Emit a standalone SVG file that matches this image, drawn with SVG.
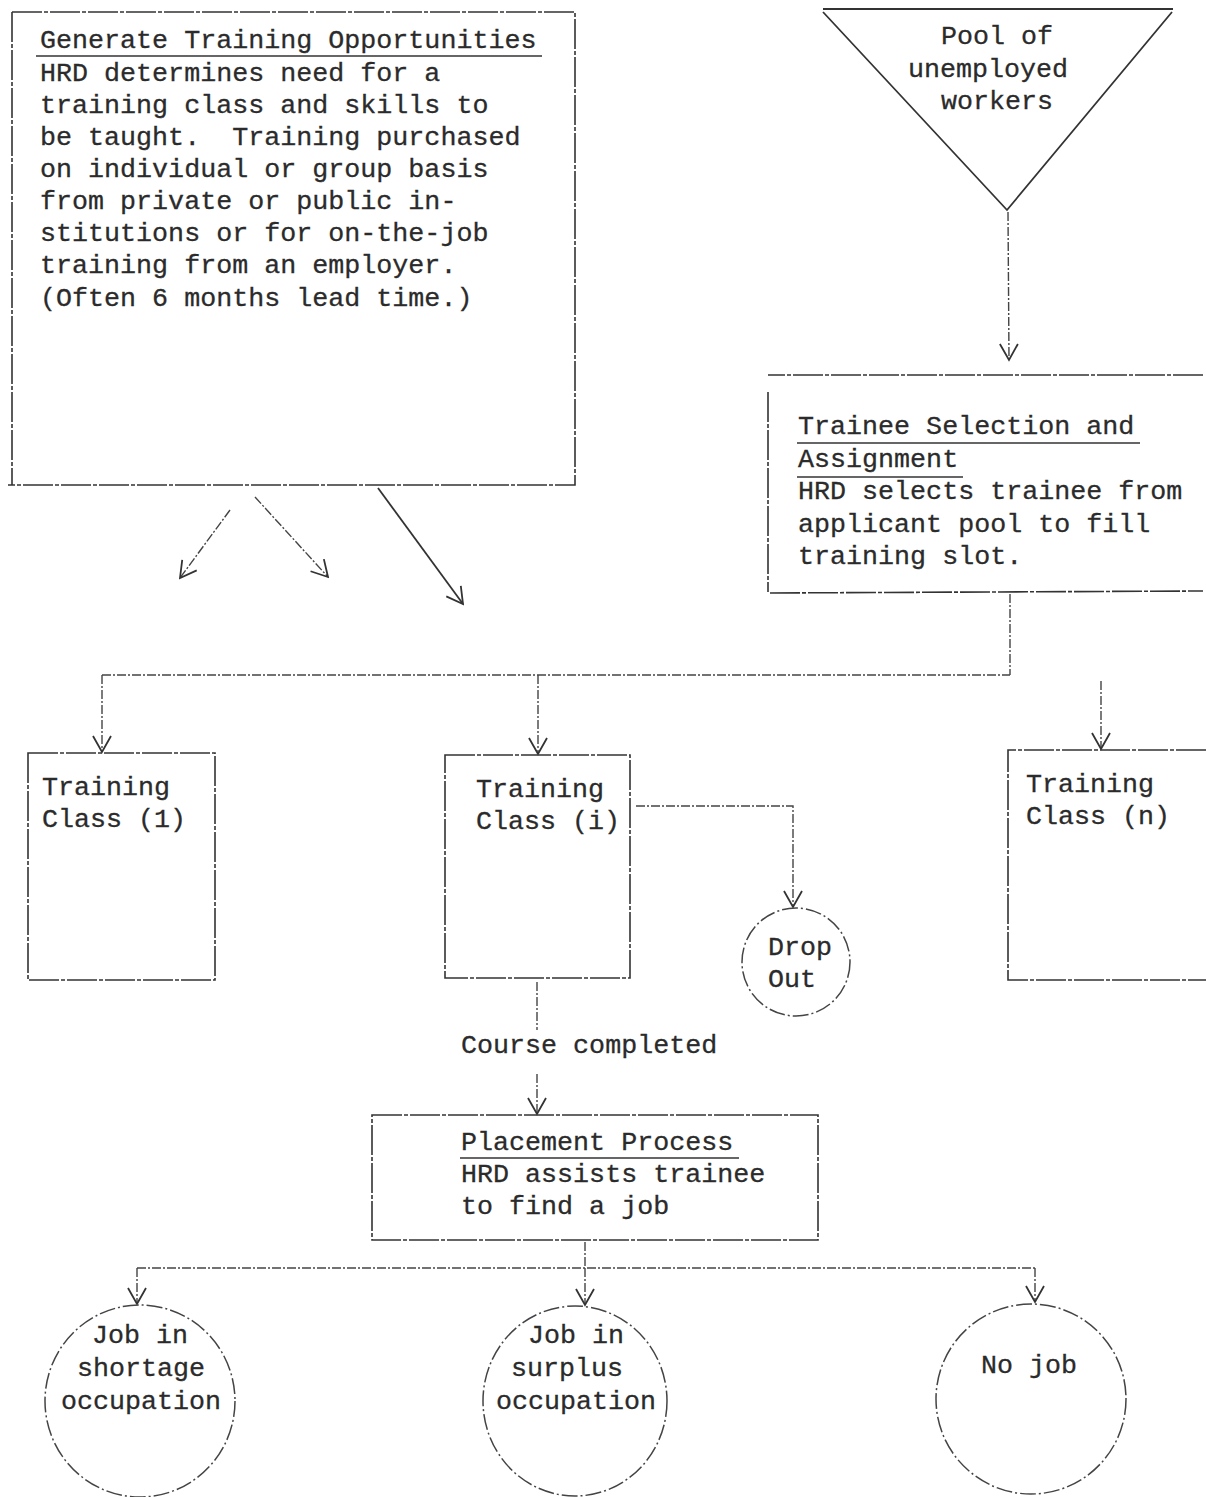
<svg xmlns="http://www.w3.org/2000/svg" width="1206" height="1497" viewBox="0 0 1206 1497">
  <style>
    .t { font-family: "Liberation Mono", "DejaVu Sans Mono", monospace; font-size: 26.7px; fill: #2b2b2b; stroke: #2b2b2b; stroke-width: 0.3; white-space: pre; }
    .c { text-anchor: middle; }
    .box { fill: none; stroke: #333; stroke-width: 1.6; stroke-dasharray: 30 2 4 2; }
    .ul { fill: none; stroke: #333; stroke-width: 1.5; }
    .ln { fill: none; stroke: #444; stroke-width: 1.4; stroke-dasharray: 9 2 2 2; }
    .solid { fill: none; stroke: #333; stroke-width: 1.8; }
    .circ { fill: none; stroke: #444; stroke-width: 1.5; stroke-dasharray: 16 3 2 3; }
  </style>
  <defs>
    <marker id="vee" viewBox="0 0 20 20" refX="18" refY="10" markerWidth="20" markerHeight="20" markerUnits="userSpaceOnUse" orient="auto">
      <path d="M2,1 L18,10 L2,19" fill="none" stroke="#333" stroke-width="1.8"/>
    </marker>
  </defs>
  <rect width="1206" height="1497" fill="#fff"/>

  <!-- connectors -->
  <g id="connectors">
    <!-- from the opportunities box -->
    <line class="ln" x1="230" y1="510" x2="180" y2="578" marker-end="url(#vee)"/>
    <line class="ln" x1="255" y1="497" x2="328" y2="577" marker-end="url(#vee)"/>
    <line class="solid" x1="378" y1="488" x2="463" y2="604" marker-end="url(#vee)"/>
    <!-- pool to selection -->
    <line class="ln" x1="1008" y1="212" x2="1009" y2="360" marker-end="url(#vee)"/>
    <!-- selection to training classes -->
    <line class="ln" x1="1010" y1="594" x2="1010" y2="675"/>
    <line class="ln" x1="102" y1="675" x2="1010" y2="675"/>
    <line class="ln" x1="102" y1="675" x2="102" y2="752" marker-end="url(#vee)"/>
    <line class="ln" x1="538" y1="675" x2="538" y2="754" marker-end="url(#vee)"/>
    <line class="ln" x1="1101" y1="681" x2="1101" y2="749" marker-end="url(#vee)"/>
    <!-- class (i) to drop out -->
    <polyline class="ln" points="636,806 793,806 793,907" marker-end="url(#vee)"/>
    <!-- class (i) to placement -->
    <line class="ln" x1="537" y1="982" x2="537" y2="1030"/>
    <line class="ln" x1="537" y1="1074" x2="537" y2="1114" marker-end="url(#vee)"/>
    <!-- placement to outcomes -->
    <line class="ln" x1="585" y1="1242" x2="585" y2="1268"/>
    <line class="ln" x1="137" y1="1268" x2="1035" y2="1268"/>
    <line class="ln" x1="137" y1="1268" x2="137" y2="1304" marker-end="url(#vee)"/>
    <line class="ln" x1="585" y1="1268" x2="585" y2="1305" marker-end="url(#vee)"/>
    <line class="ln" x1="1035" y1="1268" x2="1035" y2="1302" marker-end="url(#vee)"/>
  </g>

  <!-- Generate Training Opportunities -->
  <g id="generate">
    <path class="box" d="M12,12 L575,12 L575,485 L8,485 M12,12 L12,485"/>
    <text class="t" x="40" y="48">Generate Training Opportunities</text>
    <line class="ul" x1="36" y1="56" x2="542" y2="56"/>
    <text class="t" x="40" y="81">HRD determines need for a</text>
    <text class="t" x="40" y="113">training class and skills to</text>
    <text class="t" x="40" y="145" xml:space="preserve">be taught.  Training purchased</text>
    <text class="t" x="40" y="177">on individual or group basis</text>
    <text class="t" x="40" y="209">from private or public in-</text>
    <text class="t" x="40" y="241">stitutions or for on-the-job</text>
    <text class="t" x="40" y="273">training from an employer.</text>
    <text class="t" x="40" y="306">(Often 6 months lead time.)</text>
  </g>

  <!-- Pool of unemployed workers -->
  <g id="pool">
    <path class="solid" d="M823,9 L1173,9 M823,12 L1007,210 L1172,12"/>
    <text class="t c" x="997" y="44">Pool of</text>
    <text class="t c" x="988" y="77">unemployed</text>
    <text class="t c" x="997" y="109">workers</text>
  </g>

  <!-- Trainee Selection and Assignment -->
  <g id="selection">
    <path class="box" d="M1203,375 L768,375 M768,392 L768,592 M770,593 L1203,591"/>
    <text class="t" x="798" y="434">Trainee Selection and</text>
    <line class="ul" x1="797" y1="443" x2="1140" y2="443"/>
    <text class="t" x="798" y="467">Assignment</text>
    <line class="ul" x1="797" y1="477" x2="963" y2="477"/>
    <text class="t" x="798" y="499">HRD selects trainee from</text>
    <text class="t" x="798" y="532">applicant pool to fill</text>
    <text class="t" x="798" y="564">training slot.</text>
  </g>

  <!-- Training classes -->
  <g id="class-1">
    <rect class="box" x="28" y="753" width="187" height="227"/>
    <text class="t" x="42" y="795">Training</text>
    <text class="t" x="42" y="827">Class (1)</text>
  </g>
  <g id="class-i">
    <rect class="box" x="445" y="755" width="185" height="223"/>
    <text class="t" x="476" y="797">Training</text>
    <text class="t" x="476" y="829">Class (i)</text>
  </g>
  <g id="class-n">
    <path class="box" d="M1206,750 L1008,750 L1008,980 L1206,980"/>
    <text class="t" x="1026" y="792">Training</text>
    <text class="t" x="1026" y="824">Class (n)</text>
  </g>

  <!-- Drop Out -->
  <g id="dropout">
    <circle class="circ" cx="796" cy="962" r="54"/>
    <text class="t" x="768" y="955">Drop</text>
    <text class="t" x="768" y="987">Out</text>
  </g>

  <!-- Course completed label -->
  <g id="label-completed">
    <text class="t" x="461" y="1053">Course completed</text>
  </g>

  <!-- Placement Process -->
  <g id="placement">
    <rect class="box" x="372" y="1115" width="446" height="125"/>
    <text class="t" x="461" y="1150">Placement Process</text>
    <line class="ul" x1="460" y1="1158" x2="739" y2="1158"/>
    <text class="t" x="461" y="1182">HRD assists trainee</text>
    <text class="t" x="461" y="1214">to find a job</text>
  </g>

  <!-- Outcomes -->
  <g id="job-shortage">
    <ellipse class="circ" cx="140" cy="1401" rx="95" ry="96"/>
    <text class="t c" x="140" y="1343">Job in</text>
    <text class="t c" x="141" y="1376">shortage</text>
    <text class="t c" x="141" y="1409">occupation</text>
  </g>
  <g id="job-surplus">
    <ellipse class="circ" cx="575" cy="1401" rx="92" ry="95"/>
    <text class="t c" x="576" y="1343">Job in</text>
    <text class="t c" x="567" y="1376">surplus</text>
    <text class="t c" x="576" y="1409">occupation</text>
  </g>
  <g id="no-job">
    <circle class="circ" cx="1031" cy="1399" r="95"/>
    <text class="t c" x="1029" y="1373">No job</text>
  </g>
</svg>
